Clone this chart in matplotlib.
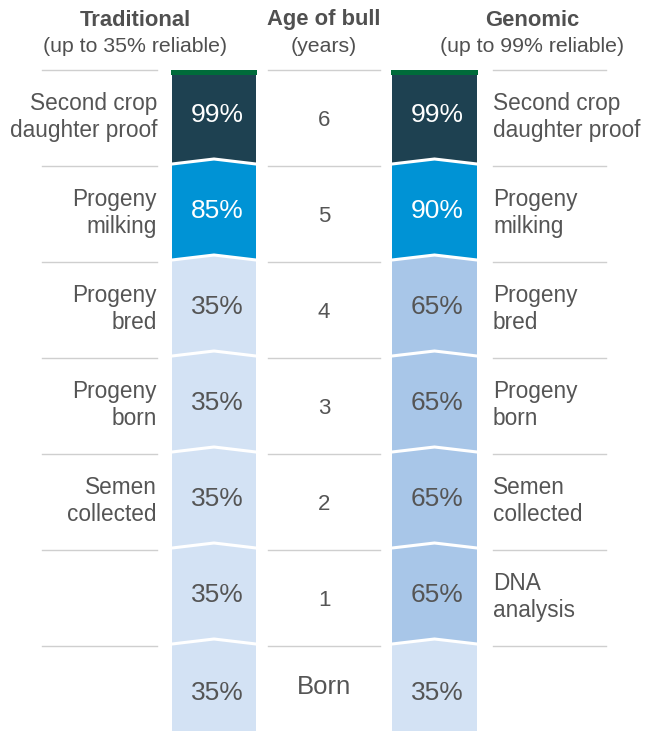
import matplotlib.pyplot as plt
from matplotlib.patches import Polygon

# data
ages = ['6', '5', '4', '3', '2', '1', 'Born']
traditional = [99, 85, 35, 35, 35, 35, 35]
genomic = [99, 90, 65, 65, 65, 65, 35]
trad_labels = ['Second crop\ndaughter proof', 'Progeny\nmilking', 'Progeny\nbred',
               'Progeny\nborn', 'Semen\ncollected', '', '']
gen_labels = ['Second crop\ndaughter proof', 'Progeny\nmilking', 'Progeny\nbred',
              'Progeny\nborn', 'Semen\ncollected', 'DNA\nanalysis', '']

colors = {99: '#1e4151', 85: '#0093d5', 90: '#0093d5', 65: '#a8c6e8', 35: '#d3e2f4'}
txt_gray = '#555555'

plt.rcParams['font.family'] = ['Liberation Sans', 'DejaVu Sans']

fig = plt.figure(figsize=(6.46, 7.31), dpi=100)
ax = fig.add_axes([0, 0, 1, 1])
ax.set_xlim(0, 646)
ax.set_ylim(731, 0)
ax.axis('off')

top = 70
step = 96
n = len(ages)
bounds = [top + step * i for i in range(n)] + [731]


def column(x0, x1, values):
    xm = (x0 + x1) / 2
    for i, v in enumerate(values):
        yt = bounds[i] + 5 if i == 0 else bounds[i] - 2
        yb = bounds[i + 1] if i == n - 1 else bounds[i + 1] - 2
        if i == 0:
            pts = [(x0, yt), (x1, yt)]
        else:
            pts = [(x0, yt), (xm, yt - 5), (x1, yt)]
        if i == n - 1:
            pts += [(x1, yb), (x0, yb)]
        else:
            pts += [(x1, yb), (xm, yb - 5), (x0, yb)]
        ax.add_patch(Polygon(pts, closed=True, fc=colors[v], ec='none'))
        if i > 0:
            ax.plot([x0, xm, x1], [yt, yt - 5, yt], color='white', lw=2.2,
                    solid_joinstyle='miter')
        tc = 'white' if v >= 85 else txt_gray
        ty = bounds[i] + step / 2 - 3
        if i == n - 1:
            ty += 2
        ax.text(xm + 3, ty, f'{v}%', ha='center', va='center', fontsize=19, color=tc)
    # green cap
    ax.add_patch(Polygon([(x0 - 1, top), (x1 + 1, top), (x1 + 1, top + 5), (x0 - 1, top + 5)],
                         fc='#006b3a', ec='none'))


column(172, 256, traditional)
column(392, 477, genomic)

# separators
for b in bounds[:-1]:
    for xa, xb in [(42, 157), (268, 380), (493, 606)]:
        ax.plot([xa, xb], [b, b], color='#cfcfcf', lw=1)

for i in range(n):
    yc = (bounds[i] + bounds[i] + step) / 2 - 1
    if trad_labels[i]:
        ax.text(157, yc, trad_labels[i], ha='right', va='center', fontsize=16.3,
                color=txt_gray, linespacing=1.22)
    if gen_labels[i]:
        ax.text(493, yc, gen_labels[i], ha='left', va='center', fontsize=16.3,
                color=txt_gray, linespacing=1.22)
    if ages[i] == 'Born':
        ax.text(324, yc - 6, ages[i], ha='center', va='center', fontsize=18.5, color=txt_gray)
    else:
        ax.text(324, yc + 3, ages[i], ha='center', va='center', fontsize=16, color=txt_gray)

# headers
for xc, t1, t2 in [(135, 'Traditional', '(up to 35% reliable)'),
                   (324, 'Age of bull', '(years)'),
                   (532, 'Genomic', '(up to 99% reliable)')]:
    ax.text(xc, 20, t1, ha='center', va='center', fontsize=15.8, fontweight='bold', color='#505050')
    ax.text(xc, 46, t2, ha='center', va='center', fontsize=15.3, color='#505050')

fig.savefig('out.png', dpi=100)
